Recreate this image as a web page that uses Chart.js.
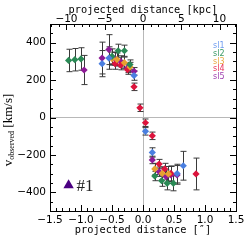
<!DOCTYPE html>
<html>
<head>
<meta charset="utf-8">
<script src="https://cdn.jsdelivr.net/npm/chart.js@4/dist/chart.umd.min.js"></script>
<style>
html, body { margin: 0; padding: 0; background: #fff; }
</style>
</head>
<body>
<canvas id="chart" width="249" height="249"></canvas>
<script>
const sl1X = [-0.66, -0.55, -0.145, 0.04, 0.15, 0.55, 0.65];
const sl1V = [288, 318, 224, -74, -187, -300, -258];
const sl1Err = [70, 60, 25, 20, 25, 50, 77];

const sl2X = [-1.20, -1.10, -1.00, -0.50, -0.40, -0.30, -0.21, 0.19, 0.30, 0.39, 0.49];
const sl2V = [305, 309, 313, 327, 357, 357, 283, -313, -338, -352, -352];
const sl2Err = [60, 60, 60, 40, 35, 30, 25, 25, 30, 35, 40];

const sl3X = [-0.50, -0.42, -0.30, -0.21, 0.19, 0.31, 0.41];
const sl3V = [315, 310, 293, 270, -275, -299, -302];
const sl3Err = [35, 35, 30, 25, 30, 35, 40];

const sl4X = [-0.45, -0.36, -0.25, -0.145, -0.05, 0.04, 0.15, 0.26, 0.35, 0.45, 0.855];
const sl4V = [288, 280, 256, 164, 52, -28, -98, -249, -275, -299, -302];
const sl4Err = [30, 25, 25, 20, 20, 20, 20, 25, 30, 40, 85];

const sl5X = [-0.95, -0.66, -0.55, -0.45, -0.36, -0.25, -0.145, 0.15, 0.26, 0.37, 0.45, 0.55];
const sl5V = [254, 318, 363, 313, 300, 265, 247, -227, -290, -316, -307, -307];
const sl5Err = [78, 85, 80, 35, 30, 25, 20, 20, 25, 35, 45, 50];

const seriesNames = ['sl1', 'sl2', 'sl3', 'sl4', 'sl5'];
const seriesColors = ['#4a7fe0', '#2a8a55', '#e8a030', '#dc143c', '#8e1a96'];
const labelColors = ['#6f9cf0', '#3a9a65', '#eaa840', '#e8325a', '#a040b0'];

// marqueur "#1" en bas à gauche
const markerX = [-1.2];
const markerV = [-362];

const xTicks = [-1.5, -1.0, -0.5, 0.0, 0.5, 1.0, 1.5];
const kpcTicks = [-10, -5, 0, 5, 10];
const yTicks = [-400, -200, 0, 200, 400];
const kpcPerArcsec = 8.1;

function points(xs, vs, errs) {
	return xs.map((x, i) => ({ x: x, y: vs[i], err: errs ? errs[i] : 0 }));
}

const allSeries = [
	points(sl1X, sl1V, sl1Err),
	points(sl2X, sl2V, sl2Err),
	points(sl3X, sl3V, sl3Err),
	points(sl4X, sl4V, sl4Err),
	points(sl5X, sl5V, sl5Err)
];

const datasets = allSeries.map((d, i) => ({
	label: seriesNames[i],
	data: d,
	backgroundColor: seriesColors[i],
	borderWidth: 0,
	pointStyle: 'rectRot',
	pointRadius: 3.6,
	errorBars: true
}));
datasets.push({
	label: 'marker',
	data: points(markerX, markerV),
	backgroundColor: '#4b0082',
	borderWidth: 0,
	pointStyle: 'triangle',
	pointRadius: 6
});

const minus = s => s.replace('-', '\u2212');

// barres d'erreur dessinées sous les losanges
const errorBarPlugin = {
	id: 'errorBars',
	beforeDatasetsDraw(chart) {
		const ctx = chart.ctx, xs = chart.scales.x, ys = chart.scales.y;
		ctx.save();
		ctx.strokeStyle = '#3a3a3a';
		ctx.lineWidth = 1;
		chart.data.datasets.forEach(ds => {
			if (!ds.errorBars) return;
			ds.data.forEach(p => {
				const px = Math.round(xs.getPixelForValue(p.x)) + 0.5;
				const top = ys.getPixelForValue(p.y + p.err);
				const bot = ys.getPixelForValue(p.y - p.err);
				ctx.beginPath();
				ctx.moveTo(px, top); ctx.lineTo(px, bot);
				ctx.moveTo(px - 3, top); ctx.lineTo(px + 3, top);
				ctx.moveTo(px - 3, bot); ctx.lineTo(px + 3, bot);
				ctx.stroke();
			});
		});
		ctx.restore();
	}
};

// cadre, graduations vers l'intérieur, textes
const framePlugin = {
	id: 'frame',
	afterDraw(chart) {
		const ctx = chart.ctx, a = chart.chartArea;
		const xs = chart.scales.x, ys = chart.scales.y, xt = chart.scales.x2;
		ctx.save();
		ctx.strokeStyle = '#000';
		ctx.lineWidth = 1;
		ctx.strokeRect(Math.round(a.left) + 0.5, Math.round(a.top) + 0.5, Math.round(a.right - a.left), Math.round(a.bottom - a.top));
		ctx.beginPath();
		for (let i = -15; i <= 15; i++) { // bas : tous les 0.1"
			const px = Math.round(xs.getPixelForValue(i / 10)) + 0.5;
			const len = i % 5 === 0 ? 6 : 3;
			ctx.moveTo(px, a.bottom); ctx.lineTo(px, a.bottom - len);
		}
		for (let k = -12; k <= 12; k++) { // haut : tous les 1 kpc
			const px = Math.round(xt.getPixelForValue(k)) + 0.5;
			const len = k % 5 === 0 ? 6 : 3;
			ctx.moveTo(px, a.top); ctx.lineTo(px, a.top + len);
		}
		for (let v = -500; v <= 500; v += 50) { // gauche et droite
			const py = Math.round(ys.getPixelForValue(v)) + 0.5;
			const len = v % 200 === 0 ? 6 : 3;
			ctx.moveTo(a.left, py); ctx.lineTo(a.left + len, py);
			ctx.moveTo(a.right, py); ctx.lineTo(a.right - len, py);
		}
		ctx.stroke();

		// noms des séries
		ctx.font = '8px "DejaVu Sans"';
		ctx.textBaseline = 'middle';
		ctx.textAlign = 'left';
		seriesNames.forEach((n, i) => {
			ctx.fillStyle = labelColors[i];
			ctx.fillText(n, a.right - 23, a.top + 22 + i * 7.8);
		});

		// "#1" à côté du triangle
		ctx.fillStyle = '#222';
		ctx.font = '17px "Liberation Serif"';
		ctx.fillText('#1', xs.getPixelForValue(markerX[0]) + 8, ys.getPixelForValue(markerV[0]) + 1);

		// titre vertical avec indice
		ctx.translate(9, 130);
		ctx.rotate(-Math.PI / 2);
		ctx.fillStyle = '#000';
		ctx.textBaseline = 'middle';
		ctx.font = '13px "Liberation Serif"';
		const w1 = ctx.measureText('v').width;
		ctx.font = '8px "Liberation Serif"';
		const w2 = ctx.measureText('observed').width;
		ctx.font = '13px "Liberation Serif"';
		const w3 = ctx.measureText(' [km/s]').width;
		let x0 = -(w1 + w2 + w3) / 2;
		ctx.fillText('v', x0, 0);
		ctx.font = '8px "Liberation Serif"';
		ctx.fillText('observed', x0 + w1, 3);
		ctx.font = '13px "Liberation Serif"';
		ctx.fillText(' [km/s]', x0 + w1 + w2, 0);
		ctx.restore();
	}
};

const tickFont = { family: 'DejaVu Sans', size: 10.5 };
const titleFont = { family: 'DejaVu Sans Mono', size: 10.3 };

new Chart(document.getElementById('chart'), {
	type: 'scatter',
	data: { datasets: datasets },
	options: {
		responsive: false,
		animation: false,
		events: [],
		layout: { padding: { right: 13, top: 4, bottom: 12 } },
		plugins: { legend: { display: false }, tooltip: { enabled: false } },
		scales: {
			x: {
				type: 'linear', position: 'bottom', min: -1.5, max: 1.5,
				afterBuildTicks: s => { s.ticks = xTicks.map(v => ({ value: v })); },
				ticks: { color: '#000', font: tickFont, padding: 3, maxRotation: 0, callback: v => minus(v.toFixed(1)) },
				grid: { color: c => (c.tick && c.tick.value === 0 ? '#b8b8b8' : 'rgba(0,0,0,0)'), drawTicks: false },
				border: { display: false },
				title: { display: true, text: 'projected distance [\u2033]', color: '#000', font: titleFont, padding: { top: 0, bottom: 0 } },
				afterFit: s => { s.height = 26; }
			},
			x2: {
				type: 'linear', position: 'top', min: -1.5 * kpcPerArcsec, max: 1.5 * kpcPerArcsec,
				afterBuildTicks: s => { s.ticks = kpcTicks.map(v => ({ value: v })); },
				ticks: { color: '#000', font: tickFont, padding: -2, maxRotation: 0, callback: v => minus(String(v)) },
				grid: { display: false, drawTicks: false },
				border: { display: false },
				title: { display: true, text: 'projected distance [kpc]', color: '#000', font: titleFont, padding: { top: 0, bottom: 0 } },
				afterFit: s => { s.height = 20; }
			},
			y: {
				type: 'linear', position: 'left', min: -500, max: 500,
				afterBuildTicks: s => { s.ticks = yTicks.map(v => ({ value: v })); },
				ticks: { color: '#000', font: tickFont, padding: 4, callback: v => minus(String(v)) },
				grid: { color: c => (c.tick && c.tick.value === 0 ? '#b8b8b8' : 'rgba(0,0,0,0)'), drawTicks: false },
				border: { display: false },
				afterFit: s => { s.width = 50; }
			}
		}
	},
	plugins: [errorBarPlugin, framePlugin]
});
</script>
</body>
</html>
